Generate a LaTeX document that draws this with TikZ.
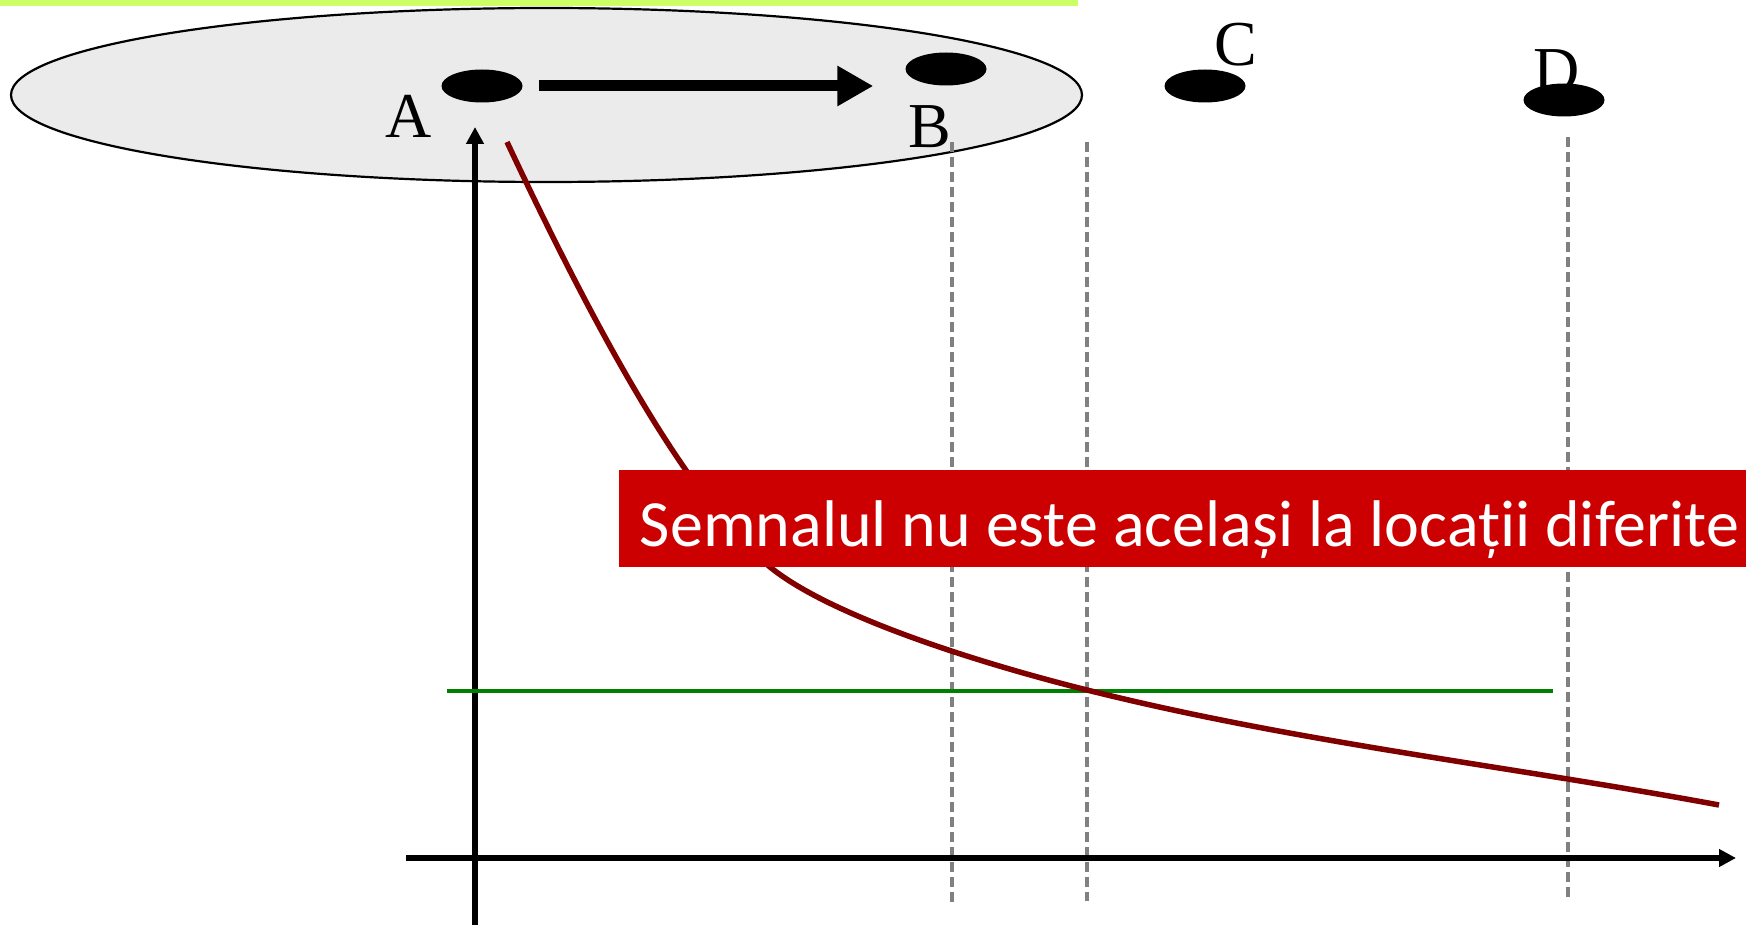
\documentclass[tikz,border=0pt]{standalone}
\usepackage{fontspec}
\setmainfont{Liberation Serif}
\newfontfamily\carl{Carlito}
\usetikzlibrary{shapes.geometric,arrows.meta,calc}
\definecolor{lime}{HTML}{CCFF66}
\definecolor{bgell}{HTML}{EBEBEB}
\definecolor{maroonc}{HTML}{800000}
\definecolor{boxred}{HTML}{CC0000}
\definecolor{dashgray}{HTML}{808080}
\definecolor{lvlgreen}{HTML}{008000}
\tikzset{
  dotnode/.style={ellipse, fill=black, inner sep=0pt, minimum width=81pt, minimum height=33pt},
  letter/.style={inner sep=0pt, font=\fontsize{64}{64}\selectfont},
  bigarrow/.style={line width=11pt, -{Triangle[length=36pt,width=38pt]}},
  axisline/.style={line width=6.5pt, -{Triangle[length=17pt,width=17pt]}},
  guide/.style={dashgray, line width=3.3pt, dash pattern=on 10pt off 5pt},
  level/.style={lvlgreen, line width=3.3pt},
  signal/.style={maroonc, line width=5.5pt},
  banner/.style={fill=boxred, text=white, inner sep=0pt, minimum width=1127pt, minimum height=97pt, text height=56pt, text depth=0pt, font=\carl\fontsize{66}{66}\selectfont}
}
\begin{document}
\begin{tikzpicture}[x=1pt,y=-1pt]
\useasboundingbox (0,0) rectangle (1746,925);
% green bar
\fill[lime] (0,0) rectangle (1078,6);
% big ellipse
\node[ellipse, draw, line width=2.2pt, fill=bgell, minimum width=1071pt, minimum height=174pt, inner sep=0pt] (region) at (546.5,95) {};
% dots
\node[dotnode] (dotA) at (482,86) {};
\node[dotnode] (dotB) at (946,69) {};
\node[dotnode] (dotC) at (1205,86) {};
% labels
\node[letter] (labA) at (409,116) {A};
\node[letter] (labB) at (930,127) {B};
\node[letter] (labC) at (1236,45) {C};
\node[letter] (labD) at (1557,71) {D};
\node[dotnode] (dotD) at (1564,100) {};
% arrow A -> B
\draw[bigarrow] ([xshift=16pt]dotA.east) -- ([xshift=-32pt]dotB.west |- dotA.east);
% dashed guides
\coordinate (gB1) at (952,142); \coordinate (gB2) at (952,903);
\coordinate (gC1) at (1087,142); \coordinate (gC2) at (1087,901);
\coordinate (gD1) at (1568,137); \coordinate (gD2) at (1568,897);
\draw[guide] (gB1) -- (gB2);
\draw[guide] (gC1) -- (gC2);
\draw[guide] (gD1) -- (gD2);
% axes
\coordinate (yb) at (475,925); \coordinate (yt) at (475,127);
\coordinate (xl) at (406,858); \coordinate (xr) at (1736,858);
\draw[axisline] (yb) -- (yt);
\draw[axisline] (xl) -- (xr);
% level line
\coordinate (gl) at (447,691); \coordinate (gr) at (1553,691);
\draw[level] (gl) -- (gr);
% signal curve
\coordinate (s0) at (507,142);
\coordinate (s1) at (770,567);
\coordinate (s2) at (1087,690);
\coordinate (s3) at (1719,805);
\draw[signal] (s0) .. controls (601,342) and (690,501) .. (s1)
  .. controls (830,616) and (977,662.5) .. (s2)
  .. controls (1297,742.5) and (1509,766) .. (s3);
% banner
\node[banner] (msg) at (1182.5,518.5) {\hspace*{14pt}Semnalul nu este același la locații diferite};
\end{tikzpicture}
\end{document}
